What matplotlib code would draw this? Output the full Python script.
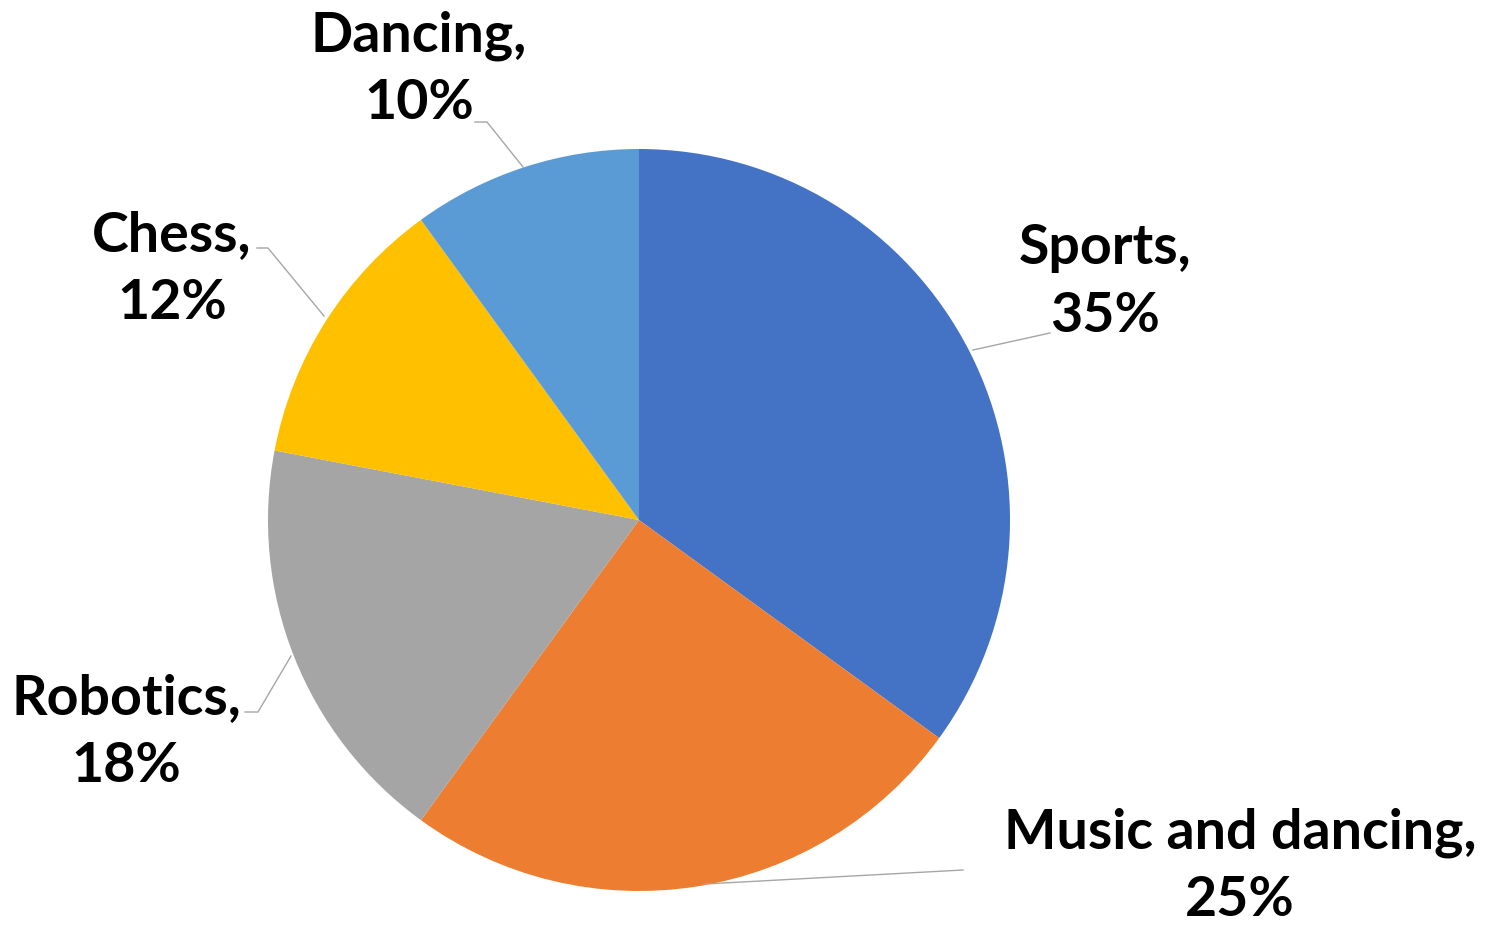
import numpy as np
import matplotlib.pyplot as plt

labels = ['Sports', 'Music and dancing', 'Robotics', 'Chess', 'Dancing']
shares = [35, 25, 18, 12, 10]
colors = ['#4472C4', '#ED7D31', '#A5A5A5', '#FFC000', '#5B9BD5']

# label centre and leader line (pixel coords, y down)
label_pos = [(1105, 282), (1240, 866), (126, 732), (172, 269), (419, 69)]
leaders = [
    [(973, 350), (1050, 333)],
    [(705, 884), (963, 870)],
    [(291, 656), (258, 712), (245, 712)],
    [(324, 316), (268, 248), (257, 248)],
    [(523, 167), (487, 122), (475, 122)],
]

W, H = 1487, 926
fig = plt.figure(figsize=(W / 100, H / 100), dpi=100)
ax = fig.add_axes([0, 0, 1, 1])
ax.set_xlim(0, W)
ax.set_ylim(H, 0)
ax.set_aspect('equal')
ax.axis('off')

# y axis is flipped, so counterclock in data = clockwise on screen
ax.pie(shares, colors=colors, center=(639, 520), radius=371,
       startangle=-90, counterclock=True,
       wedgeprops=dict(linewidth=0))
ax.set_xlim(0, W)
ax.set_ylim(H, 0)

for lab, val, (x, y), pts in zip(labels, shares, label_pos, leaders):
    ax.text(x, y, f'{lab},\n{val}%', ha='center', va='center',
            multialignment='center', fontsize=40, fontweight='bold',
            family='Lato', color='black', linespacing=1.42)
    xs, ys = zip(*pts)
    ax.plot(xs, ys, color='#A6A6A6', lw=1)

fig.savefig('out.png', dpi=100)
